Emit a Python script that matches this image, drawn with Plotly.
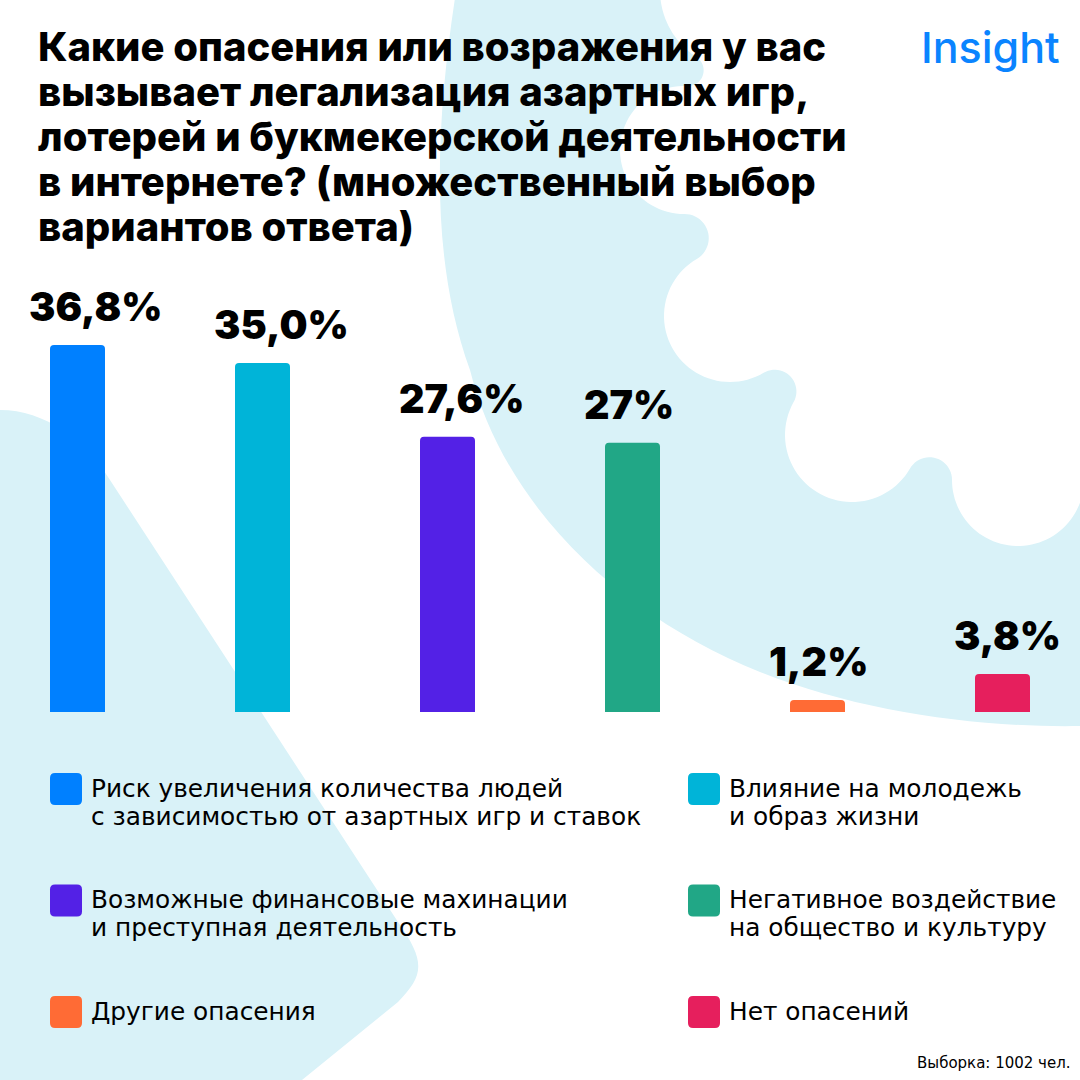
import numpy as np
import plotly.graph_objects as go

# ---------------- data ----------------
categories = [
    "Риск увеличения количества людей<br>с зависимостью от азартных игр и ставок",
    "Влияние на молодежь<br>и образ жизни",
    "Возможные финансовые махинации<br>и преступная деятельность",
    "Негативное воздействие<br>на общество и культуру",
    "Другие опасения",
    "Нет опасений",
]
values = [36.8, 35.0, 27.6, 27.0, 1.2, 3.8]
value_labels = ["36,8%", "35,0%", "27,6%", "27%", "1,2%", "3,8%"]
colors = ["#0080FF", "#00B4D8", "#5321E6", "#21A786", "#FF6B35", "#E61F5D"]

title_lines = [
    "Какие опасения или возражения у вас",
    "вызывает легализация азартных игр,",
    "лотерей и букмекерской деятельности",
    "в интернете? (множественный выбор",
    "вариантов ответа)",
]
brand = "Insight"
sample_note = "Выборка: 1002 чел."

# ---------------- layout constants ----------------
W, H = 1080, 1080
BASE_PX = 712          # pixel row of the zero line
PX_PER_UNIT = 9.97     # pixels per percentage point
BAR_STEP = 185.0       # pixels between bar centres
FIRST_BAR_PX = 77.5
BAR_W_PX = 55.0
BG = "#D9F2F8"
FONT = "DejaVu Sans"
HEAVY = "Inter"


def px(x, y):
    return f"{x / W:.5f},{1 - y / H:.5f}"


def poly_path(points):
    return "M " + " L ".join(px(x, y) for x, y in points) + " Z"


def arc(cx, cy, r, a0, a1, n=48):
    ts = np.linspace(a0, a1, n)
    return [(cx + r * np.cos(t), cy + r * np.sin(t)) for t in ts]


def rounded_rect(x0, y0, x1, y1, rr):
    return (
        f"M {px(x0 + rr, y0)} L {px(x1 - rr, y0)} Q {px(x1, y0)} {px(x1, y0 + rr)} "
        f"L {px(x1, y1 - rr)} Q {px(x1, y1)} {px(x1 - rr, y1)} "
        f"L {px(x0 + rr, y1)} Q {px(x0, y1)} {px(x0, y1 - rr)} "
        f"L {px(x0, y0 + rr)} Q {px(x0, y0)} {px(x0 + rr, y0)} Z"
    )


shapes = []

# left decorative blob
left_blob = (
    f"M {px(0,410)} C {px(45,410)} {px(85,440)} {px(110,480)} "
    f"L {px(398,922)} C {px(426,962)} {px(424,975)} {px(398,1002)} "
    f"L {px(302,1080)} L {px(0,1080)} Z"
)
shapes.append(dict(type="path", path=left_blob, xref="paper", yref="paper",
                   fillcolor=BG, line=dict(width=0), layer="below"))

# big right blob
right_blob = (
    f"M {px(455,-2)} C {px(435,130)} {px(430,260)} {px(470,370)} "
    f"C {px(505,510)} {px(625,618)} {px(760,672)} "
    f"C {px(860,712)} {px(980,728)} {px(1082,726)} "
    f"L {px(1082,-2)} Z"
)
shapes.append(dict(type="path", path=right_blob, xref="paper", yref="paper",
                   fillcolor=BG, line=dict(width=0), layer="below"))

# white scalloped cut-out inside the right blob
circles = [(740, -10, 80), (684, 150, 64), (730, 316, 66), (852, 435, 67), (1018, 480, 66)]
pts = []
cx, cy, r = circles[0]
prev = np.arctan2(0 - cy, -np.sqrt(r ** 2 - (0 - cy) ** 2))
for i in range(len(circles) - 1):
    c1 = np.array(circles[i][:2], float); r1 = circles[i][2]
    c2 = np.array(circles[i + 1][:2], float); r2 = circles[i + 1][2]
    d = np.linalg.norm(c2 - c1); u = (c2 - c1) / d; w = np.array([u[1], -u[0]])
    gap = d - r1 - r2
    rk = max(gap / 2 + 3, 14)
    R1, R2 = r1 + rk, r2 + rk
    a = (d * d + R1 * R1 - R2 * R2) / (2 * d)
    h = np.sqrt(max(R1 * R1 - a * a, 0))
    P = c1 + a * u - h * w
    ang1 = np.arctan2((P - c1)[1], (P - c1)[0])
    while ang1 > prev:
        ang1 -= 2 * np.pi
    pts += arc(c1[0], c1[1], r1, prev, ang1)
    k1 = np.arctan2((c1 - P)[1], (c1 - P)[0])
    k2 = np.arctan2((c2 - P)[1], (c2 - P)[0])
    while k2 < k1:
        k2 += 2 * np.pi
    pts += arc(P[0], P[1], rk, k1, k2, 24)
    prev = np.arctan2((P - c2)[1], (P - c2)[0])
cx, cy, r = circles[-1]
a_end = np.arccos((W - cx) / r)
while a_end > prev:
    a_end -= 2 * np.pi
pts += arc(cx, cy, r, prev, a_end)
pts += [(W + 5, pts[-1][1]), (W + 5, -5), (pts[0][0], -5)]
shapes.append(dict(type="path", path=poly_path(pts), xref="paper", yref="paper",
                   fillcolor="#FFFFFF", line=dict(width=0), layer="below"))

# ---------------- figure ----------------
fig = go.Figure()
fig.add_trace(go.Bar(
    x=categories, y=values,
    marker=dict(color=colors, cornerradius=4, line=dict(width=0)),
    width=BAR_W_PX / BAR_STEP,
    hoverinfo="skip", showlegend=False,
))

annotations = []
# value labels: left aligned slightly left of each bar, above it
for cat, v, lab in zip(categories, values, value_labels):
    annotations.append(dict(
        x=cat, y=v, xref="x", yref="y", text=lab, showarrow=False,
        xanchor="left", yanchor="bottom", xshift=-(BAR_W_PX / 2 + 23), yshift=12,
        font=dict(family=HEAVY, size=39.5, color="#000000", weight=900),
    ))

# title (one annotation per line)
for j, line in enumerate(title_lines):
    annotations.append(dict(
        x=36 / W, y=1 - (47 + j * 44.8) / H, xref="paper", yref="paper",
        text=line, showarrow=False, xanchor="left", yanchor="middle",
        font=dict(family=HEAVY, size=40, color="#000000", weight=800),
    ))

# brand & note
annotations.append(dict(x=1062 / W, y=1 - 47 / H, xref="paper", yref="paper", text=brand,
                        showarrow=False, xanchor="right", yanchor="middle",
                        font=dict(family="Inter", size=43, color="#0A84FF", weight=500)))
annotations.append(dict(x=1073 / W, y=1 - 1063 / H, xref="paper", yref="paper", text=sample_note,
                        showarrow=False, xanchor="right", yanchor="middle",
                        font=dict(family=FONT, size=15, color="#000000")))

# custom legend: two columns, three rows
for i, (cat, col) in enumerate(zip(categories, colors)):
    row, c = divmod(i, 2)
    sq_x = 50 if c == 0 else 688
    tx = 89 if c == 0 else 727
    yc = 789 + row * 111.5
    shapes.append(dict(type="path", xref="paper", yref="paper",
                       path=rounded_rect(sq_x, yc - 16, sq_x + 32, yc + 16, 5),
                       fillcolor=col, line=dict(width=0), layer="above"))
    for j, part in enumerate(cat.split("<br>")):
        annotations.append(dict(
            x=tx / W, y=1 - (yc - 1 + j * 28) / H, xref="paper", yref="paper",
            text=part, showarrow=False, xanchor="left", yanchor="middle",
            font=dict(family=FONT, size=24.8, color="#000000"),
        ))

y_min = -(H - BASE_PX) / PX_PER_UNIT
y_max = BASE_PX / PX_PER_UNIT
x_min = -FIRST_BAR_PX / BAR_STEP
x_max = (W - FIRST_BAR_PX) / BAR_STEP

fig.update_layout(
    width=W, height=H,
    margin=dict(l=0, r=0, t=0, b=0),
    paper_bgcolor="#FFFFFF", plot_bgcolor="rgba(0,0,0,0)",
    xaxis=dict(visible=False, range=[x_min, x_max], fixedrange=True),
    yaxis=dict(visible=False, range=[y_min, y_max], fixedrange=True),
    shapes=shapes, annotations=annotations,
    showlegend=False,
)

fig.write_html(
    "out.html",
    config={"displayModeBar": False, "staticPlot": True},
    post_script="document.body.style.margin='0';document.body.style.overflow='hidden';",
)
